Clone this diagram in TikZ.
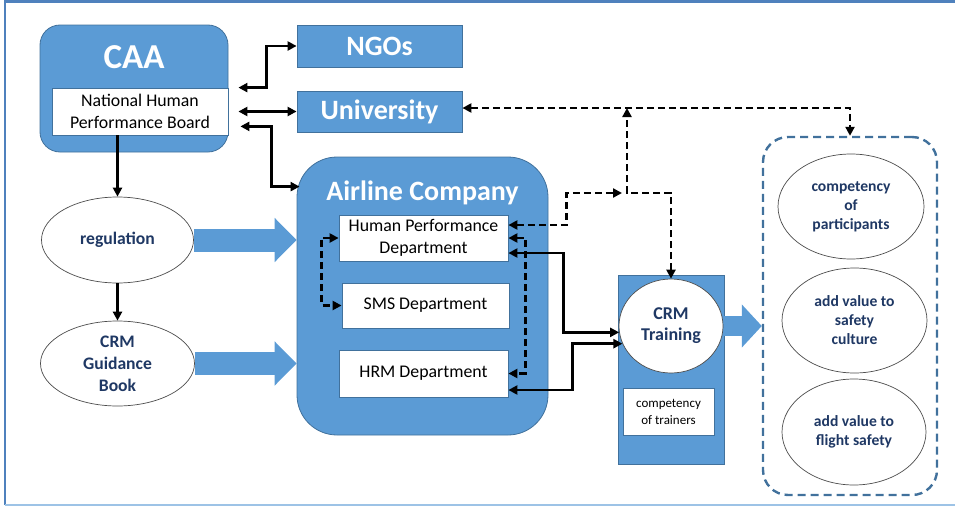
\documentclass[tikz,border=0pt]{standalone}
\usepackage{fontspec}
\setmainfont{Carlito}
\usetikzlibrary{arrows.meta,calc,positioning,shapes.geometric}
\definecolor{boxblue}{RGB}{91,155,213}
\definecolor{edgeblue}{RGB}{65,113,156}
\definecolor{navyblue}{RGB}{31,56,100}
\definecolor{framedark}{RGB}{79,129,189}
\definecolor{framelight}{RGB}{157,195,230}
\tikzset{
  panel/.style={rectangle, draw=edgeblue, line width=0.8pt, fill=boxblue, inner sep=0pt},
  subbox/.style={rectangle, draw=edgeblue, line width=0.8pt, fill=white, align=center,
                 inner sep=0pt, font=\fontsize{17.8}{21.5}\selectfont},
  ttl/.style={text=white, inner sep=0pt, font=\fontsize{28}{32}\selectfont\bfseries},
  oval/.style={ellipse, draw=black!70, line width=0.7pt, fill=white, align=center,
               inner sep=-8pt, text=navyblue, font=\fontsize{17.6}{22}\selectfont\bfseries},
  smalloval/.style={oval, font=\fontsize{15.6}{19}\selectfont\bfseries},
  link/.style={line width=2.6pt, black},
  dlink/.style={line width=2.6pt, black, dash pattern=on 7pt off 4pt},
  fatarrow/.style={line width=23pt, boxblue, -{Triangle[length=22pt,width=43pt]}},
  dashframe/.style={rectangle, rounded corners=25pt, draw=edgeblue, line width=2.4pt,
                    dash pattern=on 8pt off 5pt, inner sep=0pt},
}
\begin{document}
\begin{tikzpicture}[x=1pt, y=-1pt, >={Triangle[length=9pt,width=9pt]}]
  \useasboundingbox (0,0) rectangle (955,506);
  \draw[framedark, line width=2.5pt] (955,1.3) -- (5,1.3) -- (5,505);
  \draw[framelight, line width=1.5pt] (5,505) -- (955,505);

  \node[panel, rounded corners=20pt, minimum width=188pt, minimum height=127pt] (caa) at (134,88.5) {};
  \node[ttl, font=\fontsize{35}{40}\selectfont\bfseries] (caat) at (134,57.5) {CAA};
  \node[subbox, minimum width=176pt, minimum height=47pt] (nhpb) at (140,111.5) {National Human\\Performance Board};
  \node[panel, minimum width=165pt, minimum height=42pt, ttl] (ngos) at (379.5,46) {NGOs};
  \node[panel, minimum width=165pt, minimum height=41pt, ttl] (univ) at (379.5,111.5) {University};

  \node[oval, minimum width=152pt, minimum height=86pt] (reg) at (117.5,240) {regulation};
  \node[oval, minimum width=154pt, minimum height=85pt] (guide) at (117.5,363.5) {CRM\\Guidance\\Book};

  \node[panel, rounded corners=40pt, minimum width=251pt, minimum height=278pt] (airline) at (422.5,296) {};
  \node[ttl] (airt) at (422.5,193) {Airline Company};
  \node[subbox, minimum width=169pt, minimum height=46pt] (hpd) at (423.5,238) {Human Performance\\Department};
  \node[subbox, minimum width=167pt, minimum height=45pt] (sms) at (425.5,305.5) {SMS Department};
  \node[subbox, minimum width=169pt, minimum height=47pt] (hrm) at (423.5,373.5) {HRM Department};

  \node[panel, minimum width=106pt, minimum height=189pt] (crmp) at (671,369.5) {};
  \node[oval, minimum width=104pt, minimum height=94pt, font=\fontsize{18}{21}\selectfont\bfseries] (crm) at (671,326) {CRM\\Training};
  \node[subbox, minimum width=91pt, minimum height=47pt, font=\fontsize{13}{17}\selectfont] (trn) at (668.5,411.5) {competency\\of trainers};

  \node[dashframe, minimum width=174pt, minimum height=358pt] (goals) at (850,316) {};
  \node[smalloval, minimum width=146pt, minimum height=105pt] (part) at (851,206.5) {competency\\of\\participants};
  \node[smalloval, minimum width=145pt, minimum height=105pt] (cult) at (854.5,320.5) {add value to\\safety\\culture};
  \node[smalloval, minimum width=144pt, minimum height=106pt] (fsafe) at (854,432) {add value to\\flight safety};

  \draw[fatarrow] (reg.east) -- (airline.west |- reg.east);
  \draw[fatarrow] (guide.east) -- (airline.west |- guide.east);
  \draw[fatarrow, line width=20pt, -{Triangle[length=20pt,width=42pt]}] (crmp.east |- crm.east) -- (goals.west |- crm.east);

  \draw[link, <->] ([xshift=10pt]nhpb.north east) -| ([xshift=-30pt]ngos.west) -- (ngos.west);
  \draw[link, <->] ([xshift=10pt]nhpb.east) -- (univ.west);
  \draw[link, <->] ([xshift=12pt,yshift=9pt]nhpb.south east) -| ([xshift=-25pt,yshift=-30pt]airline.north west) -- ([xshift=3pt,yshift=-30pt]airline.north west);
  \draw[link, ->] (reg.north |- nhpb.south) -- (reg.north);
  \draw[link, ->] (reg.south) -- (guide.north);

  \draw[dlink, <->] (hpd.west) -- ++(-17,0) |- (sms.west);
  \draw[dlink, <->] (hpd.east) -- ++(17,0) |- (hrm.east);

  \coordinate (hub) at (627,193);
  \coordinate (tee) at (627,108);
  \draw[dlink, <->] ([yshift=13pt]hpd.east) -- ++(58,0) |- ([xshift=-5pt]hub);
  \draw[dlink, <->] (crm.north) |- (hub) -- (tee);
  \draw[dlink, <->] ([yshift=3.5pt]univ.east) -| (goals.north);

  \draw[link, <->] ([yshift=-15pt]hpd.east) -- ++(55,0) |- (crm.187);
  \draw[link, <->] ([yshift=-16.5pt]hrm.east) -- ++(64,0) |- (crm.200);
\end{tikzpicture}
\end{document}
